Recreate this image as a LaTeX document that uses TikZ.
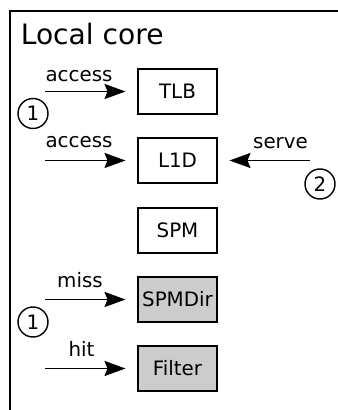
\documentclass[tikz,border=0pt]{standalone}
\usepackage{fontspec}
\setmainfont{DejaVu Sans}
\usetikzlibrary{arrows.meta}
\begin{document}
\begin{tikzpicture}[
  unit/.style={draw, line width=1.1pt, minimum width=1.58cm, minimum height=0.9cm, inner sep=0pt, font=\fontsize{11.3}{13}\selectfont},
  grayunit/.style={unit, fill=black!20},
  flow/.style={line width=1.1pt, -{Stealth[length=0.42cm,width=0.3cm,inset=0.06cm]}, shorten >=0.23cm},
  lbl/.style={anchor=base, inner sep=0pt, font=\fontsize{11.3}{13}\selectfont},
  phase/.style={draw, circle, line width=0.8pt, minimum size=0.6cm, inner sep=0pt, font=\fontsize{11.3}{13}\selectfont}] %% local core

\useasboundingbox (0,0) rectangle (6.74,8.2);

\draw[line width=1.4pt] (0.2,-0.1) -- (0.2,7.98) -- (6.84,7.98); %cornice
\node[anchor=base west, inner sep=0pt, font=\fontsize{16}{19}\selectfont] (title) at (0.41,7.3) {Local core};

\node[unit] (tlb) at (3.55,6.37) {TLB};
\node[unit] (l1d) at (3.55,4.99) {L1D};
\node[unit] (spm) at (3.55,3.59) {SPM};
\node[grayunit] (spmdir) at (3.55,2.21) {SPMDir};
\node[grayunit] (filter) at (3.55,0.83) {Filter};

\coordinate (tlbin) at (0.9,6.37);
\coordinate (l1din) at (0.9,4.99);
\coordinate (l1dserve) at (6.2,4.99);
\coordinate (spmdirin) at (0.9,2.21);
\coordinate (filterin) at (0.9,0.83);

\draw[flow] (tlbin) -- (tlb.west); %freccia
\draw[flow] (l1din) -- (l1d.west); %freccia
\draw[flow] (l1dserve) -- (l1d.east); %freccia
\draw[flow] (spmdirin) -- (spmdir.west); %freccia
\draw[flow] (filterin) -- (filter.west); %freccia

\node[lbl] (acc1) at (1.58,6.57) {access};
\node[lbl] (acc2) at (1.58,5.24) {access};
\node[lbl] (serve) at (5.61,5.22) {serve};
\node[lbl] (miss) at (1.6,2.44) {miss};
\node[lbl] (hit) at (1.63,1.06) {hit};

\node[phase] (one) at (0.66,5.93) {1};
\node[phase] (two) at (6.4,4.52) {2};
\node[phase] (oneb) at (0.66,1.76) {1};

\end{tikzpicture}
\end{document}
